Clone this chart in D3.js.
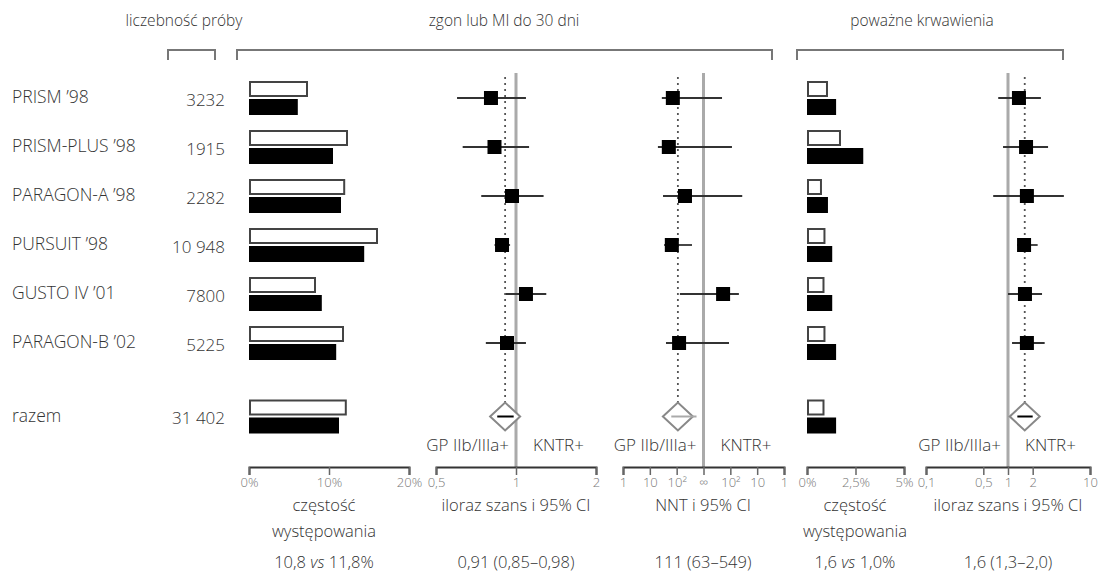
<!DOCTYPE html>
<html><head><meta charset="utf-8">
<script src="https://cdn.jsdelivr.net/npm/d3@7"></script>
<style>
body{margin:0;background:#fff}
text{font-family:"Open Sans",sans-serif;fill:#333;font-weight:300}
</style>
</head><body><svg id="c" width="1098" height="576"></svg>
<script>
// ---- data ----
const studies = ["PRISM ’98","PRISM-PLUS ’98","PARAGON-A ’98","PURSUIT ’98","GUSTO IV ’01","PARAGON-B ’02","razem"];
const sampleSize = ["3232","1915","2282","10 948","7800","5225","31 402"];
const rowIndex = [0,1,2,3,4,5,6.5];
// death or MI at 30 days, % (white = control, black = GP IIb/IIIa)
const deathCtrl = [7.25,12.25,11.9,16.0,8.25,11.75,12.1];
const deathGp   = [6.1,10.5,11.5,14.4,9.1,10.9,11.25];
// odds ratio (death/MI)
const orDeath   = [0.805,0.83,0.966,0.886,1.09,0.925,0.91];
const orDeathLo = [0.60,0.63,0.74,0.83,0.917,0.77,0.85];
const orDeathHi = [1.09,1.12,1.27,0.95,1.30,1.09,0.98];
// NNT (positive = benefit / NNT, negative = harm / NNH)
const nnt      = [72,51,204,66,-186,123,111];
const nntLeft  = [28,20,31,34,132,40,63];
const nntRight = [-204,-87,-36,372,-48,-112,549];
// major bleeding, %
const bleedCtrl = [1.03,1.7,0.72,0.9,0.85,0.9,0.85];
const bleedGp   = [1.5,2.9,1.08,1.3,1.3,1.5,1.5];
// odds ratio (bleeding)
const orBleed   = [1.36,1.66,1.70,1.57,1.61,1.70,1.6];
const orBleedLo = [0.76,0.87,0.66,1.29,1.0,1.12,1.3];
const orBleedHi = [2.52,3.08,4.8,2.3,2.6,2.8,2.0];
// axis ticks
const ticksFreq1 = [0,10,20];
const ticksFreq1Labels = ["0%","10%","20%"];
const ticksOr1 = [0.5,1,2];
const ticksOr1Labels = ["0,5","1","2"];
const ticksNnt = [-3,-2,-1,0,1,2,3];
const ticksNntLabels = ["1","10","10²","∞","10²","10","1"];
const ticksFreq2 = [0,2.5,5];
const ticksFreq2Labels = ["0%","2,5%","5%"];
const ticksOr2 = [0.1,0.5,1,2,10];
const ticksOr2Labels = ["0,1","0,5","1","2","10"];
// texts
const headers = ["liczebność próby","zgon lub MI do 30 dni","poważne krwawienia"];
const sideLabels = ["GP IIb/IIIa+","KNTR+"];
const bottomTitles = [["częstość","występowania"],["iloraz szans i 95% CI"],["NNT i 95% CI"],["częstość","występowania"],["iloraz szans i 95% CI"]];
const summaries = [["10,8 ","vs"," 11,8%"],["0,91 (0,85–0,98)"],["111 (63–549)"],["1,6 ","vs"," 1,0%"],["1,6 (1,3–2,0)"]];

// ---- layout ----
const svg = d3.select("#c");
const y = d3.scaleLinear().domain([0,6.5]).range([98,416.5]);
const axisY = 467;
const xF1 = d3.scaleLinear().domain([0,20]).range([249,409]);
const xO1 = d3.scaleLog().domain([0.5,2]).range([436,596]);
const xN  = d3.scaleLinear().domain([-3,3]).range([623,784]);
const nntPos = v => { const a = Math.min(Math.abs(v),1000); const u = 3 - Math.log10(a); return xN(v>0 ? -u : u); };
const xF2 = d3.scaleLinear().domain([0,5]).range([807,904]);
const xO2 = d3.scaleLog().domain([0.1,10]).range([926,1090]);

const rows = studies.map((s,i)=>({i, r: rowIndex[i], s}));
const dark = "#333";
const FS = 17;

// headers + brackets
const hdrX = [184,504,922];
svg.selectAll("text.hdr").data(headers).join("text").attr("class","hdr")
  .attr("x",(d,i)=>hdrX[i]).attr("y",26).attr("text-anchor","middle").attr("font-size",15.5).text(d=>d);
const brackets = [[168,215],[237,772],[797,1063]];
svg.selectAll("path.br").data(brackets).join("path").attr("class","br")
  .attr("d",d=>`M${d[0]},60V50H${d[1]}V60`).attr("fill","none").attr("stroke","#777").attr("stroke-width",2);

// row labels
svg.selectAll("text.lab").data(rows).join("text").attr("class","lab")
  .attr("x",12).attr("y",d=>y(d.r)-1).attr("dy","0.35em").attr("font-size",17.5).text(d=>d.s);
svg.selectAll("text.n").data(rows).join("text").attr("class","n")
  .attr("x",225).attr("y",d=>y(d.r)+2).attr("dy","0.35em").attr("text-anchor","end").attr("font-size",FS)
  .text(d=>sampleSize[d.i]);

// frequency bars
function bars(x, ctrl, gp, cls){
  svg.selectAll("rect.w"+cls).data(rows).join("rect").attr("class","w"+cls)
    .attr("x",x(0)+1).attr("y",d=>y(d.r)-16).attr("width",d=>x(ctrl[d.i])-x(0)-1).attr("height",14)
    .attr("fill","#fff").attr("stroke","#444").attr("stroke-width",2);
  svg.selectAll("rect.b"+cls).data(rows).join("rect").attr("class","b"+cls)
    .attr("x",x(0)).attr("y",d=>y(d.r)+1).attr("width",d=>x(gp[d.i])-x(0)).attr("height",16)
    .attr("fill","#000");
}
bars(xF1, deathCtrl, deathGp, "1");
bars(xF2, bleedCtrl, bleedGp, "2");

// forest panels
function forest(pos, est, lo, hi, refX, dotX, cls, inner){
  svg.append("line").attr("x1",refX).attr("x2",refX).attr("y1",73).attr("y2",axisY)
    .attr("stroke","#aaa").attr("stroke-width",3);
  svg.append("line").attr("x1",dotX).attr("x2",dotX).attr("y1",77).attr("y2",y(6.5)-14)
    .attr("stroke","#555").attr("stroke-width",1.8).attr("stroke-dasharray","2,4");
  const st = rows.slice(0,6);
  svg.selectAll("line.ci"+cls).data(st).join("line").attr("class","ci"+cls)
    .attr("x1",d=>pos(lo[d.i])).attr("x2",d=>pos(hi[d.i])).attr("y1",d=>y(d.r)).attr("y2",d=>y(d.r))
    .attr("stroke","#333").attr("stroke-width",1.8);
  svg.selectAll("rect.sq"+cls).data(st).join("rect").attr("class","sq"+cls)
    .attr("x",d=>pos(est[d.i])-7).attr("y",d=>y(d.r)-7).attr("width",14).attr("height",14).attr("fill","#000");
  const t = rows[6];
  const cx = pos(est[6]), cy = y(t.r);
  svg.append("path").attr("d",`M${cx-15},${cy}L${cx},${cy-14}L${cx+15},${cy}L${cx},${cy+14}Z`)
    .attr("fill","#fff").attr("stroke","#888").attr("stroke-width",2);
  svg.append("line").attr("x1",pos(lo[6])).attr("x2",pos(hi[6])).attr("y1",cy).attr("y2",cy)
    .attr("stroke",inner).attr("stroke-width",2);
  svg.append("text").attr("x",refX-7).attr("y",451).attr("text-anchor","end").attr("font-size",FS).text(sideLabels[0]);
  svg.append("text").attr("x",refX+17).attr("y",451).attr("text-anchor","start").attr("font-size",FS).text(sideLabels[1]);
}
forest(xO1, orDeath, orDeathLo, orDeathHi, xO1(1), xO1(orDeath[6]), "a", "#000");
forest(nntPos, nnt, nntLeft, nntRight, xN(0), nntPos(nnt[6]), "b", "#aaa");
forest(xO2, orBleed, orBleedLo, orBleedHi, xO2(1), xO2(orBleed[6]), "c", "#000");

// axes
function axis(scale, vals, labels){
  const g = svg.append("g").attr("transform",`translate(0,${axisY})`)
    .call(d3.axisBottom(scale).tickValues(vals).tickFormat((d,i)=>labels[i]).tickSize(8).tickSizeOuter(8).tickPadding(3));
  g.select(".domain").attr("stroke",dark).attr("stroke-width",2);
  g.selectAll(".tick line").attr("stroke","#666").attr("stroke-width",1.5);
  g.selectAll(".tick text").attr("font-size",13).style("fill","#777").attr("font-family","Open Sans, sans-serif");
}
axis(xF1, ticksFreq1, ticksFreq1Labels);
axis(xO1, ticksOr1, ticksOr1Labels);
axis(xN, ticksNnt, ticksNntLabels);
axis(xF2, ticksFreq2, ticksFreq2Labels);
axis(xO2, ticksOr2, ticksOr2Labels);

// bottom titles
const centers = [324, 516, 703, 855, 1008];
bottomTitles.forEach((lines,k)=>{
  lines.forEach((ln,j)=>{
    svg.append("text").attr("x",centers[k]).attr("y",511+j*26).attr("text-anchor","middle").attr("font-size",16.5).text(ln);
  });
});
summaries.forEach((parts,k)=>{
  const t = svg.append("text").attr("x",centers[k]).attr("y",568).attr("text-anchor","middle").attr("font-size",16.5);
  parts.forEach((p,j)=>{ t.append("tspan").attr("font-style", parts.length===3 && j===1 ? "italic" : null).text(p); });
});
</script></body></html>
